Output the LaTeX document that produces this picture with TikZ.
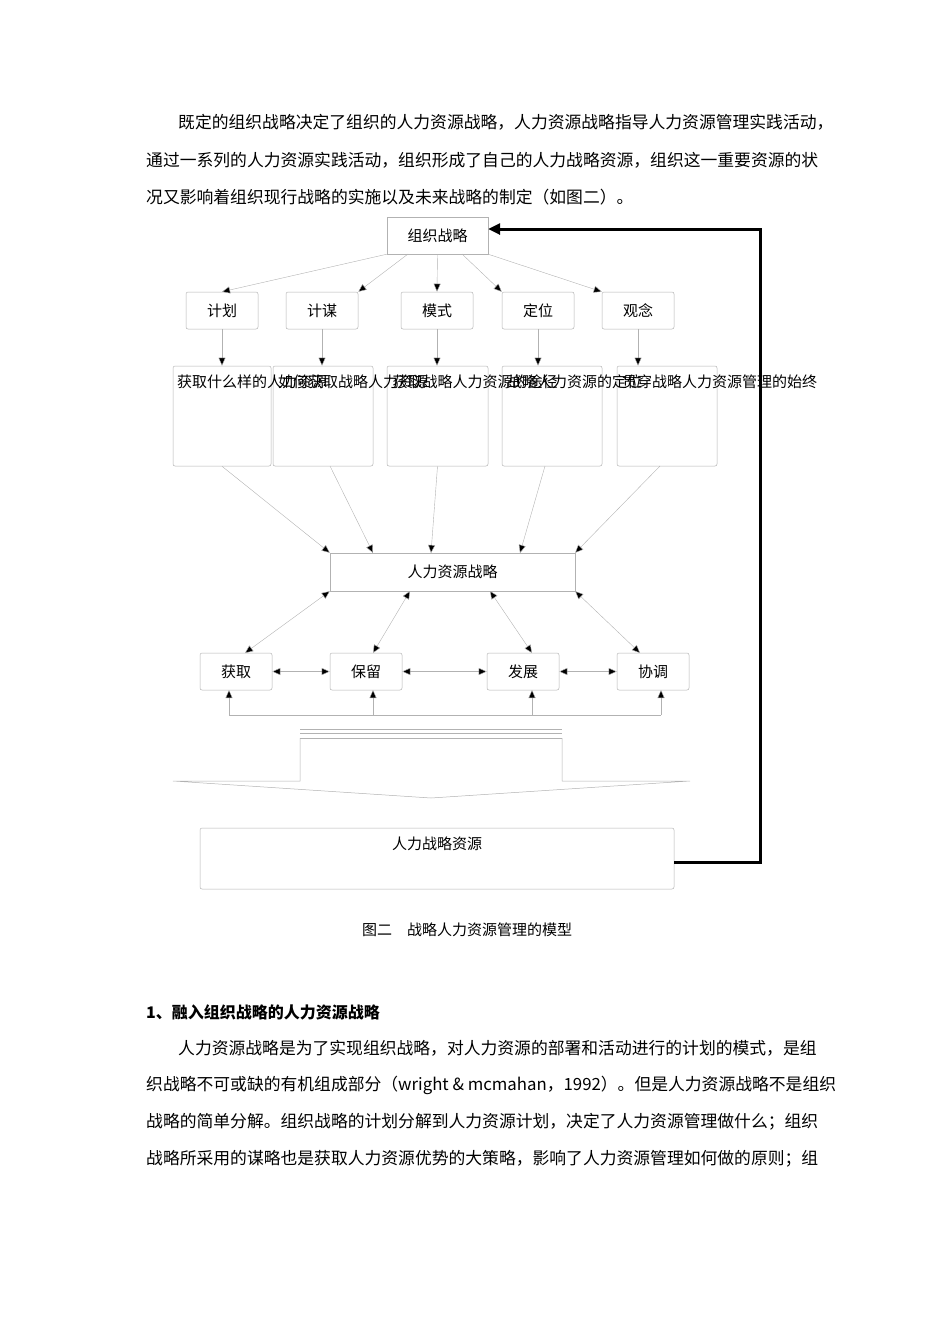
\documentclass[tikz,border=0pt]{standalone}
\usepackage{fontspec}
\setmainfont{Liberation Serif}
\newfontfamily\cjk{Noto Sans CJK SC}
\usetikzlibrary{arrows.meta}
\begin{document}
\begin{tikzpicture}[x=1pt,y=-1pt,font=\cjk\fontsize{15}{17}\selectfont,
  bx/.style={draw=gray!60,line width=0.5pt,minimum width=72pt,minimum height=37pt,rounded corners=2pt,inner sep=0pt},
  ln/.style={draw=gray!60,line width=0.4pt,-{Triangle[length=8pt,width=7pt,fill=black]}},
  dl/.style={draw=gray!60,line width=0.4pt,{Triangle[length=8pt,width=7pt,fill=black]}-{Triangle[length=8pt,width=7pt,fill=black]}},
  lb/.style={inner sep=0pt,anchor=north,text width=90pt,align=center,font=\cjk\fontsize{15}{21}\selectfont},
  tx/.style={anchor=west,inner sep=0pt,font=\cjk\fontsize{16.8}{19}\selectfont}]
\useasboundingbox (0,0) rectangle (950,1344);
% text paragraphs
\node[tx] (p1) at (178,122) {既定的组织战略决定了组织的人力资源战略，人力资源战略指导人力资源管理实践活动，};
\node[tx] (p2) at (146,160) {通过一系列的人力资源实践活动，组织形成了自己的人力战略资源，组织这一重要资源的状};
\node[tx] (p3) at (146,197) {况又影响着组织现行战略的实施以及未来战略的制定（如图二）。};
% boxes
\node[draw=gray!60,minimum width=101pt,minimum height=37pt,inner sep=0pt] (zz) at (437.5,235.5) {组织战略};
\node[bx] (a1) at (222,310.5) {计划};
\node[bx] (a2) at (322,310.5) {计谋};
\node[bx] (a3) at (437,310.5) {模式};
\node[bx] (a4) at (538,310.5) {定位};
\node[bx] (a5) at (638,310.5) {观念};
\node[bx,minimum width=98pt,minimum height=100pt] (b1) at (222,416) {};
\node[bx,minimum width=100pt,minimum height=100pt] (b2) at (323,416) {};
\node[bx,minimum width=101pt,minimum height=100pt] (b3) at (437.5,416) {};
\node[bx,minimum width=100pt,minimum height=100pt] (b4) at (552,416) {};
\node[bx,minimum width=100pt,minimum height=100pt] (b5) at (667,416) {};
\node[lb] (t1) at (222,375) {获取什么样的人力资源};
\node[lb] (t2) at (323,375) {如何获取战略人力资源};
\node[lb] (t3) at (437.5,375) {获取战略人力资源的途径};
\node[lb] (t4) at (552,375) {战略人力资源的定位};
\node[lb] (t5) at (667,375) {贯穿战略人力资源管理的始终};
\node[draw=gray!60,minimum width=245pt,minimum height=38pt,inner sep=0pt] (hr) at (452.5,572) {人力资源战略};
\node[bx] (c1) at (236,671.5) {获取};
\node[bx] (c2) at (366,671.5) {保留};
\node[bx] (c3) at (523,671.5) {发展};
\node[bx] (c4) at (653,671.5) {协调};
\node[bx,minimum width=474pt,minimum height=61pt] (rs) at (437,858.5) {};
\node[inner sep=0pt] (rst) at (437,844) {人力战略资源};
% arrows top
\draw[ln] (zz.south west) -- (a1.north);
\draw[ln] (408,254) -- (a2.north east);
\draw[ln] (zz.south) -- (a3.north);
\draw[ln] (462,254) -- (a4.north west);
\draw[ln] (zz.south east) -- (a5.north west);
\foreach \i in {1,...,5}{\draw[ln] (a\i.south) -- (a\i.south |- b\i.north);}
\draw[ln] (b1.south) -- (hr.north west);
\draw[ln] (330,466) -- (373,553);
\draw[ln] (b3.south) -- (431,553);
\draw[ln] (545,466) -- (520,553);
\draw[ln] (660,466) -- (hr.north east);
\draw[dl] (hr.south west) -- (245,653);
\draw[dl] (410,591) -- (373,653);
\draw[dl] (490,591) -- (532,653);
\draw[dl] (hr.south east) -- (640,653);
\draw[dl] (c1) -- (c2);
\draw[dl] (c2) -- (c3);
\draw[dl] (c3) -- (c4);
\coordinate (q1) at (229,715);
\coordinate (q4) at (661,715);
\draw[gray!60,line width=0.4pt] (q1) -- (q4);
\draw[ln] (q1) -- (229,690);
\draw[ln] (373,715) -- (373,690);
\draw[ln] (532,715) -- (532,690);
\draw[ln] (q4) -- (661,690);
% big arrow shape
\draw[gray!60,line width=0.5pt] (300,729) -- (562,729) (300,733) -- (562,733) (300,738) -- (562,738);
\draw[gray!60,line width=0.5pt] (300,738) -- (300,781) -- (173,781) -- (431,798) -- (690,781) -- (562,781) -- (562,738);
% feedback
\draw[line width=3pt,-{Triangle[length=12pt,width=11pt]}] (rs.east |- 0,862) -- (760,862) -- (760,229) -- (zz.east |- 0,229);
\node[inner sep=0pt] (cap) at (467,930) {图二\quad 战略人力资源管理的模型};
\node[tx,font=\cjk\bfseries\fontsize{16}{19}\selectfont] (h1) at (146,1012) {1、融入组织战略的人力资源战略};
\node[tx] (q1t) at (178,1048) {人力资源战略是为了实现组织战略，对人力资源的部署和活动进行的计划的模式，是组};
\node[tx] (q2t) at (146,1085) {织战略不可或缺的有机组成部分（wright \& mcmahan，1992）。但是人力资源战略不是组织};
\node[tx] (q3t) at (146,1122) {战略的简单分解。组织战略的计划分解到人力资源计划，决定了人力资源管理做什么；组织};
\node[tx] (q4t) at (146,1159) {战略所采用的谋略也是获取人力资源优势的大策略，影响了人力资源管理如何做的原则；组};
\end{tikzpicture}
\end{document}
